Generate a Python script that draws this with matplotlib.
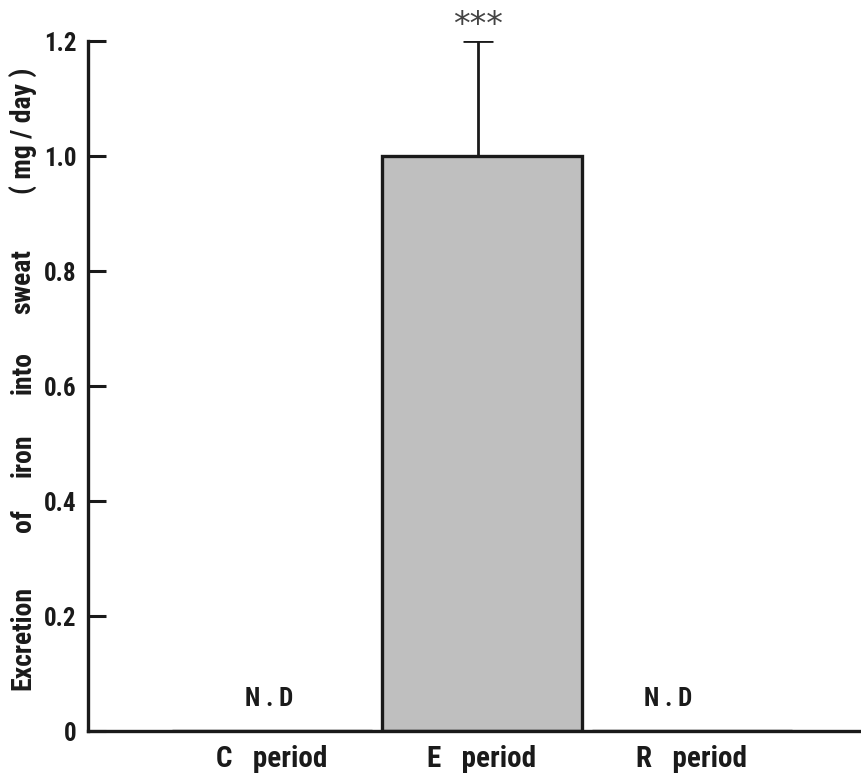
import matplotlib.pyplot as plt
from matplotlib import font_manager

# data
periods = ['C   period', 'E   period', 'R   period']
iron_excretion = [0.0, 1.0, 0.0]
sd_upper = [0.0, 0.2, 0.0]
nd_flags = [True, False, True]
yticks = [0, 0.2, 0.4, 0.6, 0.8, 1.0, 1.2]
ytick_labels = ['0', '0.2', '0.4', '0.6', '0.8', '1.0', '1.2']
ylabel_words = ['Excretion', 'of', 'iron', 'into', 'sweat', '( mg / day )']

# pick a narrow bold sans, like the typewriter-era figure lettering
names = {f.name for f in font_manager.fontManager.ttflist}
narrow = [n for n in ['Roboto Condensed', 'Archivo Narrow', 'PT Sans Narrow',
                      'Liberation Sans Narrow', 'Barlow Condensed', 'Oswald']
          if n in names]
plt.rcParams['font.family'] = narrow[:1] + ['DejaVu Sans']
plt.rcParams['font.weight'] = 'bold'
INK = '#1a1a1a'

fig = plt.figure(figsize=(8.61, 7.79), dpi=100, facecolor='white')
ax = fig.add_axes([0.102, 0.0616, 0.898, 0.8857])

x = list(range(len(periods)))
ax.bar(x, iron_excretion, width=0.95, color='#bfbfbf', edgecolor=INK,
       linewidth=2.4, zorder=2)
for xi, v, e in zip(x, iron_excretion, sd_upper):
    if e > 0:
        ax.errorbar(xi - 0.02, v, yerr=[[0], [e]], color=INK, capsize=11,
                    elinewidth=2, capthick=2, zorder=1)
        ax.text(xi - 0.02, v + e + 0.027, '***', ha='center', va='center',
                fontsize=24, family='DejaVu Sans', fontweight='normal', color='#444444')

nd_shift = [-0.015, 0, -0.114]
for xi, flag, dx in zip(x, nd_flags, nd_shift):
    if flag:
        ax.text(xi + dx, 0.035, 'N . D', ha='center', va='bottom',
                fontsize=18, color=INK)

ax.set_xlim(-0.876, 2.805)
ax.set_ylim(0, 1.2)
ax.set_yticks(yticks)
ax.set_yticklabels(ytick_labels, fontsize=18, color=INK)
ax.set_xticks(x)
ax.set_xticklabels(periods, fontsize=21, color=INK)
ax.tick_params(axis='y', direction='in', length=13, width=2.2, pad=8, color=INK)
ax.tick_params(axis='x', length=0, pad=10)

for s in ['top', 'right']:
    ax.spines[s].set_visible(False)
for s in ['left', 'bottom']:
    ax.spines[s].set_linewidth(2.4)
    ax.spines[s].set_color(INK)

# y-axis title, spread out word by word as on the original
word_y = [638, 521, 455, 372, 282, 131]
for w, py in zip(ylabel_words, word_y):
    fig.text(23 / 861, 1 - py / 779, w, rotation=90, ha='center', va='center',
             fontsize=20, color=INK)

plt.savefig('out.png', dpi=100, facecolor='white')
plt.close()
